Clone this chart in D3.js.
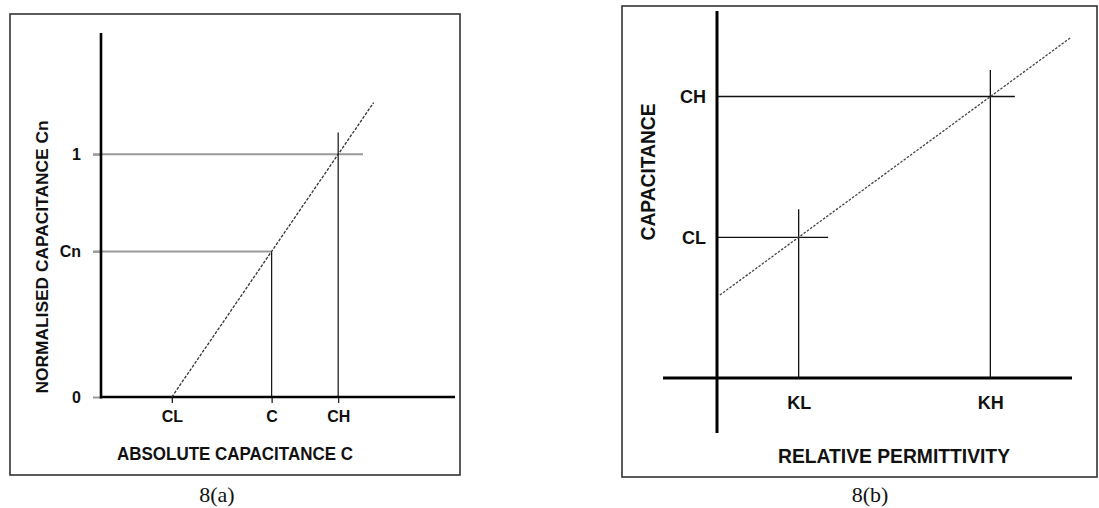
<!DOCTYPE html>
<html>
<head>
<meta charset="utf-8">
<script src="https://cdn.jsdelivr.net/npm/d3@7/dist/d3.min.js"></script>
<style>
  html, body { margin: 0; padding: 0; background: #fff; }
  svg { display: block; }
  .lbl { font-family: "Liberation Sans", Arial, sans-serif; font-weight: bold; fill: #111; }
  .cap { font-family: "Liberation Serif", "Times New Roman", serif; fill: #111; }
</style>
</head>
<body>
<svg id="fig" width="1099" height="508"></svg>
<script>
// ---- 8(a): normalised vs absolute capacitance ----
const aXTickLabels = ["CL", "C", "CH"];
const aXTickValues = [2.0, 4.82, 6.7];
const aYTickLabels = ["0", "Cn", "1"];
const aYTickValues = [0, 0.6, 1];
const aLineX = [2.0, 7.7];          // response line, absolute capacitance
const aLineY = [0, 1.213];          // response line, normalised capacitance
const aGuideOneEndX = 7.4;          // horizontal guide at Cn = 1 ends here
const aGuideCHTopY = 1.09;          // vertical guide through CH starts here

// ---- 8(b): capacitance vs relative permittivity ----
const bXTickLabels = ["KL", "KH"];
const bXTickValues = [2.3, 7.7];
const bYTickLabels = ["CL", "CH"];
const bYTickValues = [3.83, 7.67];
const bLineK = [0.08, 9.97];
const bLineC = [2.26, 9.28];
const bHorizEndK = [3.13, 8.39];    // guide line ends for CL, CH
const bVertTopC = [4.6, 8.39];      // guide line tops for KL, KH

const svg = d3.select("#fig");

// ================= panel (a) =================
const xA = d3.scaleLinear().domain([0, 10]).range([101, 455]);
const yA = d3.scaleLinear().domain([0, 1.5]).range([397, 33]);
const gA = svg.append("g");

// frame
gA.append("rect").attr("x", 10).attr("y", 14).attr("width", 450).attr("height", 461)
  .attr("fill", "none").attr("stroke", "#333").attr("stroke-width", 1.6);

// grey horizontal guides (also serve as y ticks)
gA.append("line").attr("x1", xA(0) - 8).attr("x2", xA(aGuideOneEndX))
  .attr("y1", yA(1)).attr("y2", yA(1)).attr("stroke", "#9a9a9a").attr("stroke-width", 2);
gA.append("line").attr("x1", xA(0) - 8).attr("x2", xA(aXTickValues[1]))
  .attr("y1", yA(aYTickValues[1])).attr("y2", yA(aYTickValues[1]))
  .attr("stroke", "#9a9a9a").attr("stroke-width", 2);

// y axis ticks and labels
const yAxisA = d3.axisLeft(yA).tickValues(aYTickValues).tickSize(8).tickPadding(12)
  .tickFormat((d, i) => aYTickLabels[i]);
const gyA = gA.append("g").attr("transform", `translate(${xA(0)},0)`).call(yAxisA);
gyA.select(".domain").remove();
gyA.selectAll(".tick line").attr("stroke", "#9a9a9a").attr("stroke-width", 2);
gyA.selectAll(".tick text").attr("class", "lbl").style("font-size", "16px")
  .attr("font-family", null).attr("fill", "#111");

// x axis ticks and labels
const xAxisA = d3.axisBottom(xA).tickValues(aXTickValues).tickSize(6).tickPadding(8)
  .tickFormat((d, i) => aXTickLabels[i]);
const gxA = gA.append("g").attr("transform", `translate(0,${yA(0)})`).call(xAxisA);
gxA.select(".domain").remove();
gxA.selectAll(".tick line").attr("stroke", "#111").attr("stroke-width", 1.2);
gxA.selectAll(".tick text").attr("class", "lbl").style("font-size", "16px")
  .attr("font-family", null).attr("fill", "#111");

// vertical guides through C and CH
gA.append("line").attr("x1", xA(aXTickValues[1])).attr("x2", xA(aXTickValues[1]))
  .attr("y1", yA(aYTickValues[1])).attr("y2", yA(0)).attr("stroke", "#111").attr("stroke-width", 1.2);
gA.append("line").attr("x1", xA(aXTickValues[2])).attr("x2", xA(aXTickValues[2]))
  .attr("y1", yA(aGuideCHTopY)).attr("y2", yA(0)).attr("stroke", "#111").attr("stroke-width", 1.2);

// main axes
gA.append("line").attr("x1", xA(0)).attr("x2", xA(0)).attr("y1", yA(1.5)).attr("y2", yA(0) + 1.5)
  .attr("stroke", "#000").attr("stroke-width", 2.6);
gA.append("line").attr("x1", xA(0)).attr("x2", xA(10)).attr("y1", yA(0)).attr("y2", yA(0))
  .attr("stroke", "#000").attr("stroke-width", 2.6);

// dashed response line
gA.append("path")
  .datum(aLineX.map((x, i) => [x, aLineY[i]]))
  .attr("d", d3.line().x(d => xA(d[0])).y(d => yA(d[1])))
  .attr("fill", "none").attr("stroke", "#333").attr("stroke-width", 1.3)
  .attr("stroke-dasharray", "3,1.5");

// titles
gA.append("text").attr("class", "lbl").attr("x", 235).attr("y", 460)
  .attr("text-anchor", "middle").style("font-size", "18px")
  .attr("textLength", 236).attr("lengthAdjust", "spacingAndGlyphs")
  .text("ABSOLUTE CAPACITANCE C");
gA.append("text").attr("class", "lbl")
  .attr("transform", "translate(48,257) rotate(-90)")
  .attr("text-anchor", "middle").style("font-size", "16px")
  .attr("textLength", 273).attr("lengthAdjust", "spacingAndGlyphs")
  .text("NORMALISED CAPACITANCE Cn");
gA.append("text").attr("class", "cap").attr("x", 217).attr("y", 502)
  .attr("text-anchor", "middle").style("font-size", "22px").text("8(a)");

// ================= panel (b) =================
const xB = d3.scaleLinear().domain([0, 10]).range([717, 1072]);
const yB = d3.scaleLinear().domain([0, 10]).range([378, 11]);
const gB = svg.append("g");

gB.append("rect").attr("x", 622).attr("y", 6).attr("width", 475).attr("height", 471)
  .attr("fill", "none").attr("stroke", "#333").attr("stroke-width", 1.6);

// horizontal guides at CL and CH
bYTickValues.forEach((v, i) => {
  gB.append("line").attr("x1", xB(0)).attr("x2", xB(bHorizEndK[i]))
    .attr("y1", yB(v)).attr("y2", yB(v)).attr("stroke", "#111").attr("stroke-width", 1.3);
});
// vertical guides at KL and KH
bXTickValues.forEach((v, i) => {
  gB.append("line").attr("x1", xB(v)).attr("x2", xB(v))
    .attr("y1", yB(bVertTopC[i])).attr("y2", yB(0)).attr("stroke", "#111").attr("stroke-width", 1.3);
});

// tick labels through axes
const yAxisB = d3.axisLeft(yB).tickValues(bYTickValues).tickSize(0).tickPadding(11)
  .tickFormat((d, i) => bYTickLabels[i]);
const gyB = gB.append("g").attr("transform", `translate(${xB(0)},0)`).call(yAxisB);
gyB.select(".domain").remove();
gyB.selectAll(".tick text").attr("class", "lbl").style("font-size", "18px")
  .attr("font-family", null).attr("fill", "#111");

const xAxisB = d3.axisBottom(xB).tickValues(bXTickValues).tickSize(0).tickPadding(18)
  .tickFormat((d, i) => bXTickLabels[i]);
const gxB = gB.append("g").attr("transform", `translate(0,${yB(0)})`).call(xAxisB);
gxB.select(".domain").remove();
gxB.selectAll(".tick text").attr("class", "lbl").style("font-size", "18px")
  .attr("font-family", null).attr("fill", "#111");

// main axes, crossing at the origin
gB.append("line").attr("x1", xB(0)).attr("x2", xB(0)).attr("y1", yB(10)).attr("y2", yB(-1.5))
  .attr("stroke", "#000").attr("stroke-width", 3);
gB.append("line").attr("x1", xB(-1.52)).attr("x2", xB(10)).attr("y1", yB(0)).attr("y2", yB(0))
  .attr("stroke", "#000").attr("stroke-width", 3);

// dotted response line
gB.append("path")
  .datum(bLineK.map((k, i) => [k, bLineC[i]]))
  .attr("d", d3.line().x(d => xB(d[0])).y(d => yB(d[1])))
  .attr("fill", "none").attr("stroke", "#444").attr("stroke-width", 1.3)
  .attr("stroke-dasharray", "2.5,1.5");

// titles
gB.append("text").attr("class", "lbl").attr("x", 894).attr("y", 463)
  .attr("text-anchor", "middle").style("font-size", "20px")
  .attr("textLength", 232).attr("lengthAdjust", "spacingAndGlyphs")
  .text("RELATIVE PERMITTIVITY");
gB.append("text").attr("class", "lbl")
  .attr("transform", "translate(655,172) rotate(-90)")
  .attr("text-anchor", "middle").style("font-size", "20px")
  .attr("textLength", 137).attr("lengthAdjust", "spacingAndGlyphs")
  .text("CAPACITANCE");
gB.append("text").attr("class", "cap").attr("x", 870).attr("y", 502)
  .attr("text-anchor", "middle").style("font-size", "22px").text("8(b)");
</script>
</body>
</html>
